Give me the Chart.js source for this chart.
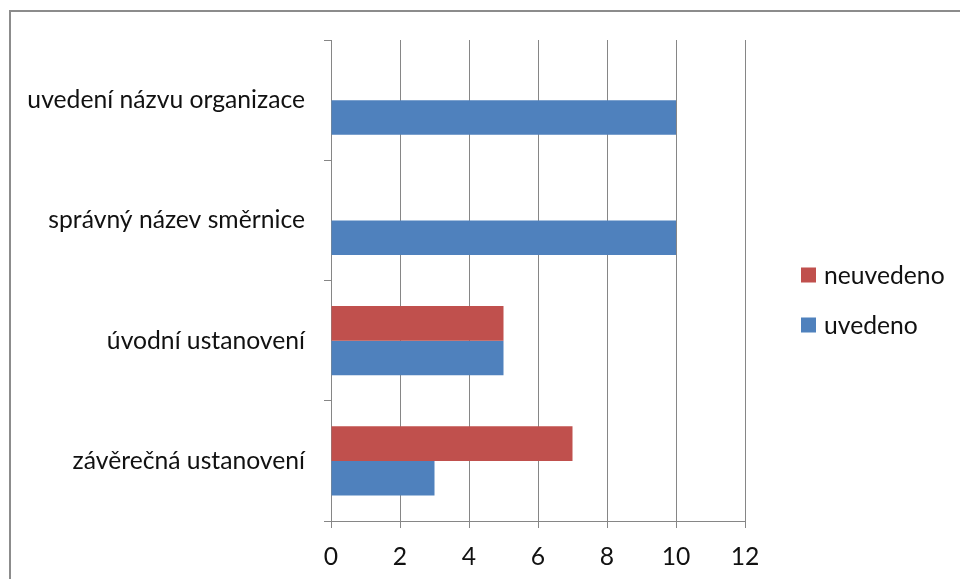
<!DOCTYPE html>
<html lang="cs">
<head>
<meta charset="utf-8">
<title>Směrnice – uvedené náležitosti</title>
<script src="https://cdn.jsdelivr.net/npm/chart.js@4/dist/chart.umd.min.js"></script>
<style>
    html, body { margin: 0; padding: 0; background: #fff; overflow: hidden; }
    .frame {
        position: absolute; left: 9px; top: 10px;
        width: 980px; height: 600px;
        border-top: 2px solid #8c8c8c;
        border-left: 2px solid #8c8c8c;
    }
    #wrap { position: absolute; left: 0; top: 0; width: 960px; height: 579px; }
</style>
</head>
<body>
<div class="frame"></div>
<div id="wrap"><canvas id="chart" width="960" height="579"></canvas></div>
<script>
const categories = [
    'uvedení názvu organizace',
    'správný název směrnice',
    'úvodní ustanovení',
    'závěrečná ustanovení',
];
const neuvedeno = [0, 0, 5, 7];
const uvedeno = [10, 10, 5, 3];
const xTickValues = [0, 2, 4, 6, 8, 10, 12];

const FONT = 'Lato, "DejaVu Sans", sans-serif';
const FONT_SIZE = 24.7;
const GRID = '#868686';
const TEXT = '#111';

// simple legend drawn to the right of the plot, one row per dataset
const sideLegend = {
    id: 'sideLegend',
    afterDraw(chart) {
        const { ctx } = chart;
        ctx.save();
        ctx.font = FONT_SIZE + 'px ' + FONT;
        ctx.textBaseline = 'middle';
        ctx.textAlign = 'left';
        chart.data.datasets.forEach((ds, i) => {
            const y = 275 + i * 50;
            ctx.fillStyle = ds.backgroundColor;
            ctx.fillRect(801, y - 7.5, 15, 15);
            ctx.fillStyle = TEXT;
            ctx.fillText(ds.label, 824, y + 1);
        });
        ctx.restore();
    },
};

new Chart(document.getElementById('chart'), {
    type: 'bar',
    data: {
        labels: categories,
        datasets: [
            { label: 'neuvedeno', data: neuvedeno, backgroundColor: '#C0504D' },
            { label: 'uvedeno', data: uvedeno, backgroundColor: '#4F81BD' },
        ],
    },
    options: {
        indexAxis: 'y',
        responsive: false,
        animation: false,
        categoryPercentage: 0.575,
        barPercentage: 1,
        layout: { padding: { top: 40, right: 215, bottom: 0, left: 0 } },
        plugins: {
            legend: { display: false },
            tooltip: { enabled: false },
        },
        scales: {
            x: {
                min: 0, max: 12,
                afterBuildTicks: (scale) => { scale.ticks = xTickValues.map((v) => ({ value: v })); },
                afterFit: (scale) => { scale.height = 58; },
                grid: { color: GRID, tickLength: 7 },
                border: { color: GRID },
                ticks: { color: TEXT, font: { family: FONT, size: FONT_SIZE }, padding: 14 },
            },
            y: {
                afterFit: (scale) => { scale.width = 331; },
                grid: { color: GRID, tickLength: 7, drawOnChartArea: false, offset: true },
                border: { color: GRID },
                ticks: { color: TEXT, font: { family: FONT, size: FONT_SIZE }, padding: 19 },
            },
        },
    },
    plugins: [sideLegend],
});
</script>
</body>
</html>
